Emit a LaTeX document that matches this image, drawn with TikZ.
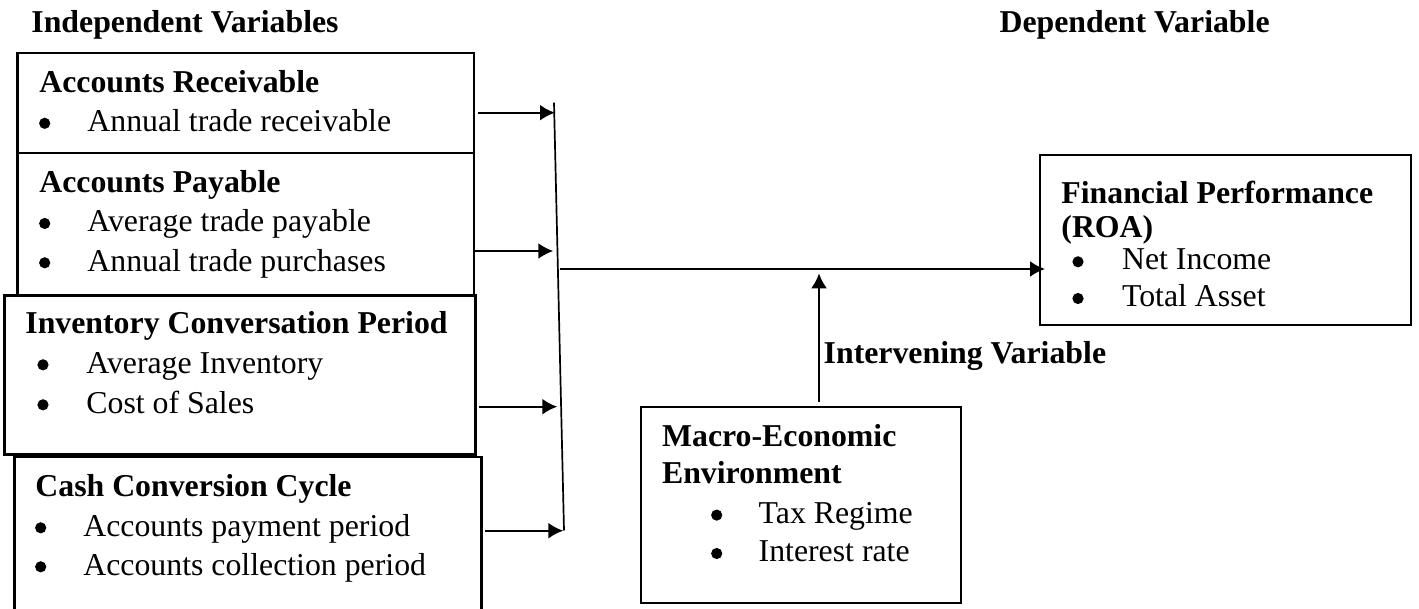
\documentclass[tikz,border=0pt]{standalone}
\usepackage{fontspec}
\setmainfont{Liberation Serif}
\usetikzlibrary{arrows.meta}
\tikzset{
  framebox/.style={draw, line width=1.15pt, inner sep=0pt, outer sep=0pt, anchor=north west},
  hd/.style={anchor=base west, inner sep=0pt, font=\fontsize{15.9}{19}\selectfont\bfseries},
  tx/.style={anchor=base west, inner sep=0pt, font=\fontsize{15.9}{19}\selectfont},
  arr/.style={-{Latex[length=7.5pt,width=8pt]}, line width=1.15pt},
  bul/.style={fill=black}
}
\begin{document}
\begin{tikzpicture}[x=0.5pt,y=-0.5pt]
\useasboundingbox (0,0) rectangle (1419,609);
\clip (0,0) rectangle (1419,609);
% titles
\node[hd] (tind) at (31,33) {Independent Variables};
\node[hd, anchor=base east] (tdep) at (1270,33) {Dependent Variable};
% boxes
\node[framebox, minimum width=228.25pt, minimum height=50.3pt] (ar) at (17.5,52.7) {};
\node[framebox, minimum width=228.25pt, minimum height=71.2pt] (ap) at (17.5,153.3) {};
\node[framebox, line width=1.5pt, minimum width=235.85pt, minimum height=79.15pt] (icp) at (4,295.7) {};
\node[framebox, line width=1.3pt, minimum width=233.7pt, minimum height=80pt] (ccc) at (14.3,457) {};
\node[framebox, minimum width=185.35pt, minimum height=85pt] (fp) at (1040,155) {};
\node[framebox, minimum width=160.15pt, minimum height=98.3pt] (macro) at (640.7,406.7) {};
% Accounts Receivable
\node[hd] (arh) at (39,92.7) {Accounts Receivable};
\fill[bul] (44.7,123.3) circle[radius=2.8pt];
\node[tx] (ar1) at (87,131.5) {Annual trade receivable};
% Accounts Payable
\node[hd] (aph) at (39,192.7) {Accounts Payable};
\fill[bul] (44.7,223.5) circle[radius=2.8pt];
\node[tx] (ap1) at (87,231.7) {Average trade payable};
\fill[bul] (44.7,262.8) circle[radius=2.8pt];
\node[tx] (ap2) at (87,271) {Annual trade purchases};
% Inventory Conversation Period
\node[hd] (icph) at (25,334) {Inventory Conversation Period};
\fill[bul] (43,364.8) circle[radius=2.8pt];
\node[tx] (icp1) at (86,373) {Average Inventory};
\fill[bul] (43,404.8) circle[radius=2.8pt];
\node[tx] (icp2) at (86,413) {Cost of Sales};
% Cash Conversion Cycle
\node[hd] (ccch) at (35,496.7) {Cash Conversion Cycle};
\fill[bul] (40.7,527.8) circle[radius=2.8pt];
\node[tx] (ccc1) at (83,536) {Accounts payment period};
\fill[bul] (40.7,566.8) circle[radius=2.8pt];
\node[tx] (ccc2) at (83,575) {Accounts collection period};
% Financial Performance
\node[hd] (fph1) at (1061,203.3) {Financial Performance};
\node[hd] (fph2) at (1061,238) {(ROA)};
\fill[bul] (1078,261.8) circle[radius=2.8pt];
\node[tx] (fp1) at (1121.7,270) {Net Income};
\fill[bul] (1078,298.5) circle[radius=2.8pt];
\node[tx] (fp2) at (1121.7,306.7) {Total Asset};
% Macro-Economic Environment
\node[hd] (mh1) at (661.7,446) {Macro-Economic};
\node[hd] (mh2) at (661.7,483.3) {Environment};
\fill[bul] (716.7,515.1) circle[radius=2.8pt];
\node[tx] (m1) at (758.3,523.3) {Tax Regime};
\fill[bul] (716.7,553.5) circle[radius=2.8pt];
\node[tx] (m2) at (758.3,561.7) {Interest rate};
% intervening label
\node[hd] (iv) at (823.3,363.3) {Intervening Variable};
% connectors
\coordinate (j1) at (555,112.7);
\coordinate (j2) at (553.3,251);
\coordinate (j3) at (557.3,406.7);
\coordinate (j4) at (563.3,530.7);
\coordinate (bt) at (554,102.7);
\coordinate (bb) at (564,530.5);
\coordinate (m) at (560,269);
\coordinate (u) at (819,273.3);
\draw[line width=0.85pt] (bt) -- (bb);
\draw[arr, shorten <=2.2pt] (ar.east |- j1) -- (j1);
\draw[arr, shorten <=0.5pt] (ap.east |- j2) -- (j2);
\draw[arr, shorten <=1.8pt] (icp.east |- j3) -- (j3);
\draw[arr, shorten <=1.7pt] (ccc.east |- j4) -- (j4);
\draw[arr, shorten >=-2.5pt] (m) -- (m -| fp.west);
\draw[arr, shorten <=2.5pt] (u |- macro.north) -- (u);
\end{tikzpicture}
\end{document}
